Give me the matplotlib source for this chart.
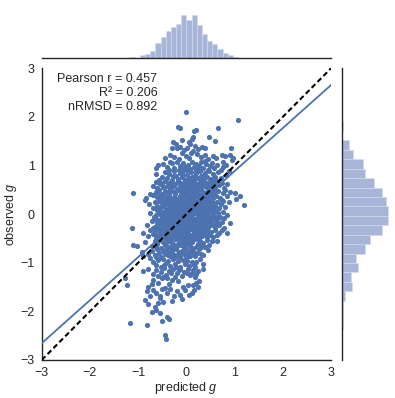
import matplotlib
matplotlib.use("Agg")
import matplotlib.pyplot as plt
import numpy as np

plt.rcParams['font.family'] = ['Liberation Sans', 'DejaVu Sans']
plt.rcParams['mathtext.fontset'] = 'custom'
plt.rcParams['mathtext.rm'] = 'Liberation Sans'
plt.rcParams['mathtext.it'] = 'Liberation Sans:italic'

# (predicted g, observed g) points
band_top = [(-0.01, 2.11), (1.08, 1.94), (-0.18, 1.80), (-0.13, 1.77), (0.21, 1.73), (0.16, 1.70), (0.66, 1.78),
            (0.47, 1.58), (0.59, 1.51), (0.14, 1.58), (0.11, 1.54), (0.06, 1.49), (-0.27, 1.49), (-0.10, 1.53),
            (-0.13, 1.39), (-0.19, 1.37), (0.02, 1.36), (-0.30, 1.36), (0.93, 1.37), (0.32, 1.39), (0.39, 1.36),
            (0.25, 1.33), (-0.05, 1.31), (0.18, 1.40), (0.08, 1.44), (-0.22, 1.44)]
band_1p2 = [(0.10, 1.26), (0.14, 1.29), (-0.10, 1.25), (-0.34, 1.22), (0.73, 1.22), (0.80, 1.19), (0.905, 1.22),
            (0.97, 1.16), (0.94, 1.12), (-0.25, 1.18), (-0.15, 1.14), (0.00, 1.20), (0.05, 1.15), (0.22, 1.24),
            (0.30, 1.17), (0.38, 1.22), (0.45, 1.13), (0.55, 1.20), (-0.45, 1.15), (0.62, 1.16)]
band_1p0 = [(-0.58, 1.01), (-0.41, 0.98), (-0.37, 0.91), (0.77, 1.08), (0.83, 1.01), (0.71, 0.91), (0.77, 0.96),
            (-0.62, 0.94), (-0.30, 1.05), (-0.25, 0.95), (-0.20, 1.08), (-0.14, 0.99), (-0.10, 0.93), (-0.06, 1.06),
            (-0.02, 0.97), (0.03, 1.02), (0.07, 0.92), (0.11, 1.08), (0.15, 0.98), (0.19, 1.04), (0.23, 0.93),
            (0.27, 1.00), (0.31, 1.07), (0.35, 0.95), (0.40, 1.03), (0.44, 0.91), (0.49, 0.99), (0.53, 1.06),
            (0.58, 0.94), (0.63, 1.02), (-0.48, 1.04), (-0.16, 0.90), (0.01, 0.90), (0.20, 0.91), (0.38, 1.09),
            (-0.33, 1.08)]
band_0p8 = [(0.82, 0.81), (0.88, 0.88), (-0.51, 0.77), (-0.56, 0.71), (-0.64, 0.83), (-0.45, 0.86), (-0.40, 0.74),
            (-0.35, 0.82), (-0.30, 0.71), (-0.26, 0.88), (-0.22, 0.78), (-0.18, 0.72), (-0.14, 0.85), (-0.10, 0.76),
            (-0.06, 0.89), (-0.03, 0.71), (0.01, 0.81), (0.05, 0.74), (0.09, 0.87), (0.12, 0.77), (0.16, 0.71),
            (0.20, 0.84), (0.24, 0.75), (0.28, 0.89), (0.31, 0.79), (0.35, 0.72), (0.39, 0.85), (0.43, 0.77),
            (0.47, 0.88), (0.51, 0.73), (0.55, 0.82), (0.60, 0.76), (0.66, 0.86), (0.71, 0.74), (-0.08, 0.80),
            (0.18, 0.79), (0.36, 0.80), (-0.28, 0.79), (0.62, 0.70)]
band_0p6 = [(-0.63, 0.66), (-0.51, 0.65), (-0.69, 0.58), (-0.60, 0.53), (-0.55, 0.61), (-0.48, 0.55), (-0.44, 0.69),
            (-0.40, 0.58), (-0.37, 0.64), (-0.33, 0.52), (-0.30, 0.67), (-0.27, 0.57), (-0.23, 0.63), (-0.20, 0.51),
            (-0.17, 0.69), (-0.14, 0.59), (-0.11, 0.65), (-0.08, 0.53), (-0.05, 0.61), (-0.02, 0.68), (0.01, 0.56),
            (0.04, 0.63), (0.07, 0.51), (0.10, 0.66), (0.13, 0.58), (0.16, 0.69), (0.19, 0.54), (0.22, 0.62),
            (0.25, 0.57), (0.28, 0.67), (0.31, 0.52), (0.34, 0.60), (0.37, 0.69), (0.40, 0.55), (0.43, 0.64),
            (0.46, 0.58), (0.49, 0.68), (0.52, 0.52), (0.56, 0.61), (0.60, 0.55), (0.64, 0.66), (0.68, 0.59),
            (0.73, 0.64), (0.78, 0.54), (0.84, 0.62), (-0.25, 0.60), (-0.12, 0.55), (0.05, 0.69), (0.20, 0.60),
            (0.32, 0.63), (0.09, 0.59), (-0.36, 0.57), (0.58, 0.68), (0.44, 0.51), (-0.02, 0.54)]
band_0p4 = [(-1.11, 0.43), (-0.69, 0.40), (1.01, 0.44), (1.11, 0.37), (1.02, 0.31), (0.77, 0.43), (0.80, 0.50),
            (0.73, 0.29), (-0.64, 0.46), (-0.60, 0.35), (-0.56, 0.49), (-0.53, 0.31), (-0.50, 0.42), (-0.47, 0.37),
            (-0.44, 0.48), (-0.41, 0.33), (-0.38, 0.44), (-0.35, 0.39), (-0.32, 0.31), (-0.29, 0.47), (-0.26, 0.36),
            (-0.23, 0.42), (-0.20, 0.32), (-0.17, 0.49), (-0.14, 0.38), (-0.11, 0.45), (-0.08, 0.34), (-0.05, 0.41),
            (-0.02, 0.48), (0.01, 0.36), (0.04, 0.44), (0.07, 0.31), (0.10, 0.40), (0.13, 0.47), (0.16, 0.35),
            (0.19, 0.43), (0.22, 0.38), (0.25, 0.49), (0.28, 0.33), (0.31, 0.41), (0.34, 0.46), (0.37, 0.36),
            (0.40, 0.43), (0.43, 0.31), (0.46, 0.48), (0.49, 0.39), (0.52, 0.45), (0.55, 0.34), (0.58, 0.42),
            (0.62, 0.37), (0.66, 0.47), (0.69, 0.33), (0.85, 0.38), (0.90, 0.46), (-0.75, 0.41), (-0.84, 0.34),
            (-0.12, 0.31), (0.05, 0.49), (0.27, 0.40), (-0.36, 0.45), (0.15, 0.41), (-0.01, 0.39), (0.44, 0.37),
            (0.60, 0.49), (-0.57, 0.40), (0.35, 0.32), (-0.22, 0.47), (0.11, 0.34)]
band_0p2 = [(-0.86, 0.29), (-0.65, 0.24), (-0.60, 0.16), (1.20, 0.18), (0.59, 0.16), (-0.78, 0.21), (-0.70, 0.13),
            (-0.57, 0.27), (-0.54, 0.12), (-0.51, 0.22), (-0.48, 0.17), (-0.45, 0.28), (-0.42, 0.11), (-0.39, 0.24),
            (-0.36, 0.19), (-0.33, 0.14), (-0.30, 0.29), (-0.27, 0.21), (-0.24, 0.11), (-0.21, 0.26), (-0.18, 0.16),
            (-0.15, 0.23), (-0.12, 0.13), (-0.09, 0.28), (-0.06, 0.18), (-0.03, 0.25), (0.00, 0.12), (0.03, 0.22),
            (0.06, 0.17), (0.09, 0.29), (0.12, 0.14), (0.15, 0.24), (0.18, 0.19), (0.21, 0.11), (0.24, 0.27),
            (0.27, 0.16), (0.30, 0.23), (0.33, 0.13), (0.36, 0.28), (0.39, 0.18), (0.42, 0.25), (0.45, 0.12),
            (0.48, 0.21), (0.51, 0.29), (0.54, 0.15), (0.63, 0.26), (0.67, 0.12), (0.71, 0.21), (0.76, 0.28),
            (0.80, 0.15), (-0.28, 0.12), (-0.14, 0.29), (0.02, 0.28), (0.14, 0.20), (0.31, 0.17), (0.44, 0.28),
            (-0.44, 0.20), (-0.08, 0.11), (0.21, 0.24), (0.37, 0.11), (0.52, 0.19), (-0.20, 0.19), (0.08, 0.23),
            (-0.37, 0.28), (0.26, 0.20), (-0.01, 0.19), (-0.25, 0.25), (0.11, 0.11), (0.46, 0.24), (0.58, 0.22),
            (-0.52, 0.15), (0.17, 0.27), (0.34, 0.21), (-0.11, 0.21), (0.88, 0.24)]
band_0p0 = [(-0.60, 0.09), (-0.51, -0.05), (0.85, -0.01), (0.66, 0.02), (-0.76, 0.03), (-0.68, -0.06), (-0.56, 0.07),
            (-0.53, -0.02), (-0.48, 0.04), (-0.45, -0.08), (-0.42, 0.09), (-0.39, 0.00), (-0.36, -0.05), (-0.33, 0.06),
            (-0.30, -0.09), (-0.27, 0.02), (-0.24, 0.08), (-0.21, -0.03), (-0.18, 0.05), (-0.15, -0.07), (-0.12, 0.01),
            (-0.09, 0.09), (-0.06, -0.04), (-0.03, 0.04), (0.00, -0.08), (0.03, 0.06), (0.06, -0.01), (0.09, 0.08),
            (0.12, -0.06), (0.15, 0.03), (0.18, -0.09), (0.21, 0.07), (0.24, -0.02), (0.27, 0.05), (0.30, -0.07),
            (0.33, 0.09), (0.36, 0.01), (0.39, -0.05), (0.42, 0.06), (0.45, -0.03), (0.48, 0.08), (0.51, -0.08),
            (0.54, 0.02), (0.57, -0.04), (0.61, 0.07), (0.70, -0.06), (0.75, 0.05), (0.79, -0.08), (-0.63, -0.02),
            (-0.47, -0.09), (-0.31, 0.04), (-0.16, 0.08), (-0.01, 0.02), (0.13, 0.05), (0.28, -0.01), (0.43, 0.02),
            (0.58, 0.09), (-0.38, 0.08), (-0.22, -0.08), (-0.07, -0.02), (0.08, -0.05), (0.22, 0.01), (0.37, -0.09),
            (0.50, 0.04), (-0.43, -0.01), (-0.11, -0.09), (0.04, 0.01), (0.19, 0.09), (0.34, -0.04), (-0.26, -0.04),
            (0.64, -0.08), (-0.57, 0.03), (0.10, 0.02), (-0.19, 0.01), (0.46, -0.09), (-0.35, 0.01), (0.25, 0.09),
            (-0.04, 0.07), (0.55, 0.06)]
band_m0p2 = [(-1.13, -0.29), (-0.82, -0.22), (-0.55, -0.12), (0.905, -0.19), (0.49, -0.12), (0.56, -0.22),
             (-0.72, -0.15), (-0.66, -0.26), (-0.61, -0.19), (-0.58, -0.28), (-0.52, -0.21), (-0.49, -0.14),
             (-0.46, -0.27), (-0.43, -0.18), (-0.40, -0.11), (-0.37, -0.24), (-0.34, -0.16), (-0.31, -0.29),
             (-0.28, -0.20), (-0.25, -0.13), (-0.22, -0.26), (-0.19, -0.17), (-0.16, -0.23), (-0.13, -0.11),
             (-0.10, -0.28), (-0.07, -0.19), (-0.04, -0.14), (-0.01, -0.25), (0.02, -0.18), (0.05, -0.29),
             (0.08, -0.12), (0.11, -0.22), (0.14, -0.16), (0.17, -0.27), (0.20, -0.20), (0.23, -0.13),
             (0.26, -0.24), (0.29, -0.17), (0.32, -0.29), (0.35, -0.11), (0.38, -0.21), (0.41, -0.15),
             (0.44, -0.27), (0.52, -0.18), (0.60, -0.27), (0.64, -0.14), (0.68, -0.23), (0.73, -0.16),
             (0.78, -0.28), (-0.69, -0.29), (-0.55, -0.24), (-0.41, -0.29), (-0.27, -0.11), (-0.12, -0.20),
             (0.03, -0.11), (0.18, -0.11), (0.33, -0.20), (0.47, -0.24), (-0.48, -0.22), (-0.33, -0.22),
             (-0.18, -0.29), (-0.03, -0.21), (0.12, -0.28), (0.27, -0.11), (0.40, -0.29), (-0.62, -0.11),
             (-0.08, -0.13), (0.07, -0.23), (0.22, -0.29), (-0.23, -0.19), (0.57, -0.11), (-0.38, -0.17),
             (0.15, -0.21), (0.30, -0.25), (-0.14, -0.28), (0.45, -0.14), (-0.52, -0.12), (0.01, -0.28),
             (0.62, -0.19)]
band_m0p4 = [(-0.89, -0.39), (-0.75, -0.32), (0.73, -0.32), (0.84, -0.39), (-0.62, -0.50), (-0.80, -0.45),
             (-0.70, -0.41), (-0.66, -0.34), (-0.58, -0.47), (-0.55, -0.37), (-0.51, -0.31), (-0.48, -0.44),
             (-0.45, -0.36), (-0.42, -0.49), (-0.39, -0.33), (-0.36, -0.42), (-0.33, -0.38), (-0.30, -0.47),
             (-0.27, -0.31), (-0.24, -0.43), (-0.21, -0.36), (-0.18, -0.49), (-0.15, -0.34), (-0.12, -0.41),
             (-0.09, -0.46), (-0.06, -0.32), (-0.03, -0.39), (0.00, -0.48), (0.03, -0.35), (0.06, -0.43),
             (0.09, -0.31), (0.12, -0.47), (0.15, -0.38), (0.18, -0.44), (0.21, -0.33), (0.24, -0.41),
             (0.27, -0.49), (0.30, -0.36), (0.33, -0.45), (0.36, -0.31), (0.39, -0.40), (0.42, -0.48),
             (0.45, -0.34), (0.48, -0.43), (0.51, -0.37), (0.55, -0.46), (0.59, -0.33), (0.63, -0.42),
             (0.67, -0.38), (-0.63, -0.42), (-0.46, -0.47), (-0.31, -0.33), (-0.16, -0.44), (-0.01, -0.31),
             (0.13, -0.40), (0.28, -0.32), (0.41, -0.36), (-0.53, -0.41), (-0.38, -0.46), (-0.23, -0.38),
             (-0.08, -0.40), (0.07, -0.49), (0.22, -0.46), (0.35, -0.39), (-0.12, -0.33), (0.16, -0.32),
             (-0.27, -0.45), (0.46, -0.40)]
band_m0p6 = [(-1.10, -0.63), (-1.02, -0.65), (0.63, -0.56), (0.53, -0.56), (0.42, -0.53), (0.35, -0.60),
             (-0.85, -0.58), (-0.72, -0.66), (-0.66, -0.55), (-0.60, -0.62), (-0.56, -0.52), (-0.52, -0.69),
             (-0.48, -0.58), (-0.44, -0.64), (-0.40, -0.53), (-0.36, -0.67), (-0.32, -0.57), (-0.28, -0.62),
             (-0.24, -0.51), (-0.20, -0.66), (-0.16, -0.56), (-0.12, -0.63), (-0.08, -0.53), (-0.04, -0.68),
             (0.00, -0.59), (0.04, -0.54), (0.08, -0.65), (0.12, -0.57), (0.16, -0.69), (0.20, -0.52),
             (0.24, -0.61), (0.28, -0.55), (0.31, -0.67), (0.46, -0.63), (-0.58, -0.56), (-0.42, -0.59),
             (-0.26, -0.68), (-0.10, -0.60), (0.06, -0.59), (0.22, -0.66), (-0.34, -0.52), (-0.18, -0.61),
             (0.14, -0.51), (-0.02, -0.63), (0.38, -0.68), (-0.64, -0.68), (0.26, -0.69)]
band_m0p8 = [(-0.93, -0.77), (-0.89, -0.87), (0.45, -0.73), (0.35, -0.84), (0.14, -0.77), (-0.80, -0.82),
             (-0.72, -0.75), (-0.66, -0.85), (-0.61, -0.72), (-0.57, -0.80), (-0.53, -0.88), (-0.49, -0.74),
             (-0.45, -0.83), (-0.41, -0.71), (-0.37, -0.79), (-0.33, -0.87), (-0.29, -0.76), (-0.25, -0.84),
             (-0.21, -0.72), (-0.17, -0.81), (-0.13, -0.89), (-0.09, -0.75), (-0.05, -0.83), (-0.01, -0.71),
             (0.03, -0.80), (0.07, -0.87), (0.10, -0.74), (0.18, -0.86), (0.22, -0.79), (0.26, -0.72),
             (0.30, -0.81), (-0.62, -0.89), (-0.46, -0.78), (-0.30, -0.70), (-0.15, -0.77), (0.01, -0.89),
             (-0.39, -0.85), (-0.23, -0.89), (0.13, -0.83), (-0.07, -0.79)]
band_m1p0 = [(0.28, -0.93), (0.21, -0.98), (0.11, -0.98), (-0.75, -0.91), (-0.69, -0.98), (-0.64, -1.04),
             (-0.58, -0.95), (-0.53, -1.08), (-0.48, -0.92), (-0.43, -1.01), (-0.38, -0.96), (-0.33, -1.07),
             (-0.28, -0.93), (-0.23, -1.03), (-0.18, -0.97), (-0.13, -1.09), (-0.08, -0.94), (-0.03, -1.02),
             (0.02, -0.96), (0.06, -1.06), (0.16, -1.05), (0.34, -1.02), (-0.46, -1.05), (-0.21, -1.09),
             (-0.01, -0.91), (0.18, -1.08)]
band_m1p2 = [(-0.89, -1.17), (0.075, -1.25), (0.005, -1.22), (0.11, -1.22), (0.21, -1.23), (0.18, -1.30),
             (-0.20, -1.22), (-0.69, -1.24), (-0.63, -1.14), (-0.58, -1.28), (-0.53, -1.19), (-0.47, -1.11),
             (-0.42, -1.26), (-0.37, -1.16), (-0.32, -1.21), (-0.27, -1.13), (-0.23, -1.29), (-0.15, -1.15),
             (-0.10, -1.27), (-0.05, -1.18), (0.13, -1.14), (0.25, -1.17), (0.34, -1.12), (-0.80, -1.12),
             (-0.49, -1.29), (-0.13, -1.12), (0.04, -1.12)]
band_m1p4 = [(-1.24, -1.45), (-1.27, -1.32), (-0.79, -1.49), (-0.72, -1.43), (-0.06, -1.49), (0.04, -1.45),
             (-0.69, -1.35), (-0.51, -1.32), (-0.41, -1.32), (-0.30, -1.35), (0.14, -1.46), (0.20, -1.41),
             (0.27, -1.37), (0.25, -1.50), (-0.58, -1.42), (-0.35, -1.44), (-0.17, -1.38)]
band_m1p6 = [(-0.82, -1.59), (-0.75, -1.68), (-0.69, -1.56), (-0.62, -1.63), (-0.20, -1.59), (-0.13, -1.66),
             (0.11, -1.63), (0.16, -1.56), (-0.50, -1.53), (-0.40, -1.62), (-0.33, -1.55), (-0.25, -1.68),
             (-0.03, -1.57), (0.05, -1.66), (-0.55, -1.68), (-0.45, -1.51)]
band_m1p8 = [(-0.86, -1.76), (-0.55, -1.73), (-0.48, -1.80), (-0.58, -1.82), (-0.65, -1.90), (-0.09, -1.75),
             (-0.30, -1.78), (-0.80, -1.85)]
band_low = [(-0.62, -1.97), (-0.55, -2.04), (-0.41, -2.11), (-0.37, -2.16), (-1.17, -2.23), (-0.82, -2.27),
            (-0.44, -2.48), (-0.43, -2.57), (-0.72, -2.02), (-0.50, -2.20)]

# marginal histograms (bin start, bin width, counts)
top_hist_start = -1.286
top_hist_width = 0.1073
top_hist_counts = [1, 3, 1, 5, 7, 13, 26, 37, 46, 54, 59, 73, 65, 73, 57, 41, 29, 24, 15, 9, 5, 2, 1]
right_hist_start = -2.75
right_hist_width = 0.194
right_hist_counts = [1, 1, 2, 3, 3, 6, 17, 15, 28, 24, 40, 47, 68, 79, 79, 75, 68, 55, 39, 36, 19, 12, 1, 2, 1]

fit_slope = 0.885
fit_intercept = 0.0
stats_text = "Pearson r = 0.457\nR\u00b2 = 0.206\nnRMSD = 0.892"

blue = "#4c72b0"
hist_color = "#a9b4d9"
dark = "#262626"

pts = (band_top + band_1p2 + band_1p0 + band_0p8 + band_0p6 + band_0p4 + band_0p2 + band_0p0
       + band_m0p2 + band_m0p4 + band_m0p6 + band_m0p8 + band_m1p0 + band_m1p2 + band_m1p4
       + band_m1p6 + band_m1p8 + band_low)
pred_g = np.array([p[0] for p in pts])
obs_g = np.array([p[1] for p in pts])

fig = plt.figure(figsize=(3.95, 3.98), dpi=100)
ax = fig.add_axes([0.1056, 0.0955, 0.7324, 0.7329])
ax_top = fig.add_axes([0.1056, 0.8535, 0.7324, 0.1465])
ax_right = fig.add_axes([0.865, 0.0955, 0.135, 0.7329])

ax.scatter(pred_g, obs_g, s=14, color=blue, linewidths=0, zorder=2)
xs = np.array([-3, 3])
ax.plot(xs, fit_intercept + fit_slope * xs, color=blue, lw=1.3, zorder=3)
ax.plot(xs, xs, color="black", lw=1.5, dashes=(2.5, 1.5), zorder=3)

ax.set_xlim(-3, 3)
ax.set_ylim(-3, 3)
ax.set_xticks(range(-3, 4))
ax.set_yticks(range(-3, 4))
ax.tick_params(length=0, pad=5, labelsize=9, colors=dark)
ax.set_xlabel("predicted $g$", fontsize=9, color=dark, labelpad=1)
ax.set_ylabel("observed $g$", fontsize=9, color=dark, labelpad=1)
for side in ["top", "right"]:
    ax.spines[side].set_visible(False)
for side in ["left", "bottom"]:
    ax.spines[side].set_color(dark)
    ax.spines[side].set_linewidth(1.0)

ax.text(0.40, 0.985, stats_text, transform=ax.transAxes, ha="right", va="top",
        fontsize=9, color=dark, linespacing=1.25)

top_edges = top_hist_start + top_hist_width * np.arange(len(top_hist_counts))
ax_top.bar(top_edges, top_hist_counts, width=top_hist_width, align="edge",
           color=hist_color, edgecolor="#d4daee", linewidth=0.4)
ax_top.set_xlim(-3, 3)
ax_top.set_ylim(0, max(top_hist_counts) * 1.36)

right_edges = right_hist_start + right_hist_width * np.arange(len(right_hist_counts))
ax_right.barh(right_edges, right_hist_counts, height=right_hist_width, align="edge",
              color=hist_color, edgecolor="#d4daee", linewidth=0.4)
ax_right.set_ylim(-3, 3)
ax_right.set_xlim(0, max(right_hist_counts) * 1.14)

for a, keep in [(ax_top, "bottom"), (ax_right, "left")]:
    a.set_xticks([])
    a.set_yticks([])
    for side in ["top", "right", "left", "bottom"]:
        a.spines[side].set_visible(side == keep)
    a.spines[keep].set_color(dark)
    a.spines[keep].set_linewidth(1.0)
    a.patch.set_alpha(0)

fig.savefig("out.png", dpi=100)
